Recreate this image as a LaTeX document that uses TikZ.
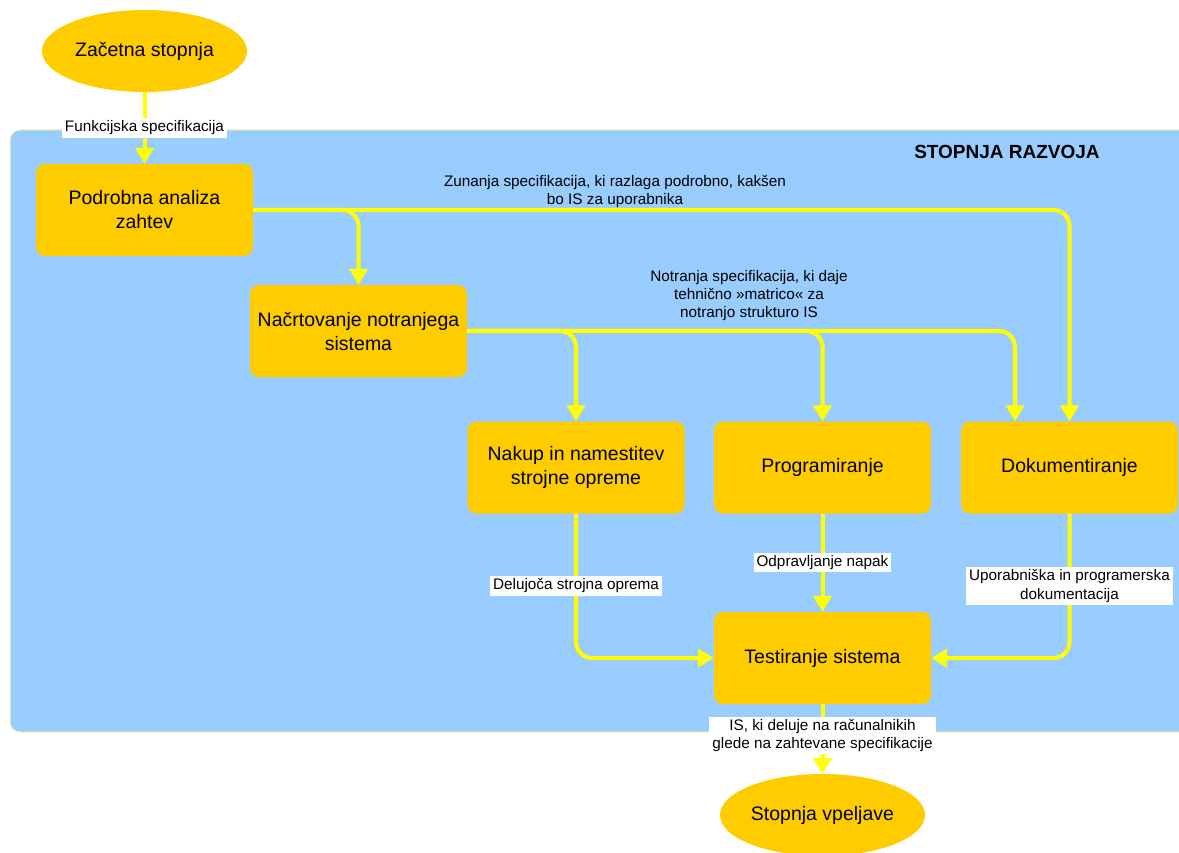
\documentclass[tikz,border=0pt]{standalone}
\usepackage{fontspec}
\setmainfont{Liberation Sans}
\usetikzlibrary{shapes.geometric,arrows.meta,calc}
\definecolor{phase}{HTML}{FFCC00}
\definecolor{stage}{HTML}{99CCFF}
\definecolor{flow}{HTML}{FFFF00}
\definecolor{stageedge}{HTML}{F4F4A0}

\begin{document}
\begin{tikzpicture}[x=1pt,y=-1pt,
  box/.style={fill=phase, rounded corners=9pt, minimum width=217pt, minimum height=92pt,
    align=center, font=\fontsize{19.5}{24}\selectfont, inner sep=0pt},
  term/.style={ellipse, fill=phase, minimum width=205pt, minimum height=82pt,
    inner sep=0pt, font=\fontsize{19.5}{24}\selectfont},
  flowline/.style={draw=flow, line width=4pt, rounded corners=16pt,
    -{Triangle[width=18pt,length=16pt]}},
  lbl/.style={fill=white, sharp corners, align=center, font=\fontsize{15.3}{18.5}\selectfont,
    inner xsep=3pt, inner ysep=2.5pt},
  note/.style={align=center, font=\fontsize{15.3}{18}\selectfont, inner sep=0pt},
]
\clip (0,0) rectangle (1179,853);
\fill[white] (0,0) rectangle (1179,853);

% development stage area
\draw[fill=stage, draw=stageedge, line width=1pt, rounded corners=10pt]
  (10,130) rectangle (1200,732);
\node[font=\bfseries\fontsize{19}{22}\selectfont] (stagetitle) at (1007,152) {STOPNJA RAZVOJA};

% phases
\node[term] (start) at (144.5,51) {Začetna stopnja};
\node[box] (pod) at (144.5,210) {Podrobna analiza\\zahtev};
\node[box] (nac) at (358.5,331) {Načrtovanje notranjega\\sistema};
\node[box] (nak) at (576,467.5) {Nakup in namestitev\\strojne opreme};
\node[box] (prog) at (822.5,467.5) {Programiranje};
\node[box] (dok) at (1069.5,467.5) {Dokumentiranje};
\node[box] (test) at (822.5,658) {Testiranje sistema};
\node[term] (end) at (822.5,815) {Stopnja vpeljave};

\coordinate (dokin) at ($(dok.north)+(-54.5,0)$);

% flows
\draw[flowline] (start) -- node[lbl] (l1) {Funkcijska specifikacija} (pod);

\draw[flowline] (pod.east) -| (dok.north);
\draw[flowline] (pod.east) -| (nac.north);
\node[note] (zunanja) at (615,192) {Zunanja specifikacija, ki razlaga podrobno, kakšen\\bo IS za uporabnika};

\draw[flowline] (nac.east) -| (nak.north);
\draw[flowline] (nac.east) -| (prog.north);
\draw[flowline] (nac.east) -| (dokin);
\node[note] (notranja) at (749,296) {Notranja specifikacija, ki daje\\tehnično »matrico« za\\notranjo strukturo IS};

\draw[flowline] (nak.south) |- node[lbl, pos=0.25] (l2) {Delujoča strojna oprema} (test.west);
\draw[flowline] (prog.south) -- node[lbl] (l3) {Odpravljanje napak} (test.north);
\draw[flowline] (dok.south) |- node[lbl, pos=0.25] (l4) {Uporabniška in programerska\\dokumentacija} (test.east);
\draw[flowline] (test.south) -- node[lbl, pos=0.45] (l5) {IS, ki deluje na računalnikih\\glede na zahtevane specifikacije} (end.north);
\end{tikzpicture}
\end{document}
